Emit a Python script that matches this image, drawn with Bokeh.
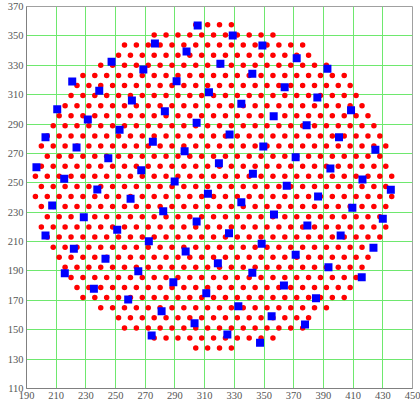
from bokeh.plotting import figure
from bokeh.models import FixedTicker, Range1d
from bokeh.embed import file_html
from bokeh.resources import INLINE

x_ticks = [190, 210, 230, 250, 270, 290, 310, 330, 350, 370, 390, 410, 430, 450]
y_ticks = [110, 130, 150, 170, 190, 210, 230, 250, 270, 290, 310, 330, 350, 370]

# red points, read row by row (y of row, x positions in that row)
red_rows_y = [137.5, 144.4, 151.2, 158.1, 165.0, 171.9, 178.8, 185.6, 192.5, 199.4,
              206.2, 213.1, 220.0, 226.9, 233.8, 240.6, 247.5, 254.4, 261.2, 268.1,
              275.0, 281.9, 288.8, 295.6, 302.5, 309.4, 316.2, 323.1, 330.0, 336.9,
              343.8, 350.6, 357.5]
red_rows_x = [
    [304, 312, 320, 328],
    [276, 284, 292, 300, 308, 316, 324, 332, 340, 348, 356],
    [256, 264, 272, 280, 288, 296, 304, 312, 320, 328, 336, 344, 352, 360, 368, 376],
    [252, 260, 268, 276, 284, 292, 300, 308, 316, 324, 332, 340, 348, 356, 364, 372, 380],
    [240, 248, 256, 264, 272, 280, 288, 296, 304, 312, 320, 328, 336, 344, 352, 360, 368, 376, 384, 392],
    [228, 236, 244, 252, 260, 268, 276, 284, 292, 300, 308, 316, 324, 332, 340, 348, 356, 364, 372, 380, 388, 396, 404],
    [224, 232, 240, 248, 256, 264, 272, 280, 288, 296, 304, 312, 320, 328, 336, 344, 352, 360, 368, 376, 384, 392, 400, 408],
    [220, 228, 236, 244, 252, 260, 268, 276, 284, 292, 300, 308, 316, 324, 332, 340, 348, 356, 364, 372, 380, 388, 396, 404, 412],
    [216, 224, 232, 240, 248, 256, 264, 272, 280, 288, 296, 304, 312, 320, 328, 336, 344, 352, 360, 368, 376, 384, 392, 400, 408, 416],
    [212, 220, 228, 236, 244, 252, 260, 268, 276, 284, 292, 300, 308, 316, 324, 332, 340, 348, 356, 364, 372, 380, 388, 396, 404, 412, 420],
    [208, 216, 224, 232, 240, 248, 256, 264, 272, 280, 288, 296, 304, 312, 320, 328, 336, 344, 352, 360, 368, 376, 384, 392, 400, 408, 416, 424],
    [204, 212, 220, 228, 236, 244, 252, 260, 268, 276, 284, 292, 300, 308, 316, 324, 332, 340, 348, 356, 364, 372, 380, 388, 396, 404, 412, 420, 428],
    [200, 208, 216, 224, 232, 240, 248, 256, 264, 272, 280, 288, 296, 304, 312, 320, 328, 336, 344, 352, 360, 368, 376, 384, 392, 400, 408, 416, 424, 432],
    [204, 212, 220, 228, 236, 244, 252, 260, 268, 276, 284, 292, 300, 308, 316, 324, 332, 340, 348, 356, 364, 372, 380, 388, 396, 404, 412, 420, 428],
    [200, 208, 216, 224, 232, 240, 248, 256, 264, 272, 280, 288, 296, 304, 312, 320, 328, 336, 344, 352, 360, 368, 376, 384, 392, 400, 408, 416, 424, 432],
    [196, 204, 212, 220, 228, 236, 244, 252, 260, 268, 276, 284, 292, 300, 308, 316, 324, 332, 340, 348, 356, 364, 372, 380, 388, 396, 404, 412, 420, 428, 436],
    [200, 208, 216, 224, 232, 240, 248, 256, 264, 272, 280, 288, 296, 304, 312, 320, 328, 336, 344, 352, 360, 368, 376, 384, 392, 400, 408, 416, 424, 432],
    [196, 204, 212, 220, 228, 236, 244, 252, 260, 268, 276, 284, 292, 300, 308, 316, 324, 332, 340, 348, 356, 364, 372, 380, 388, 396, 404, 412, 420, 428, 436],
    [200, 208, 216, 224, 232, 240, 248, 256, 264, 272, 280, 288, 296, 304, 312, 320, 328, 336, 344, 352, 360, 368, 376, 384, 392, 400, 408, 416, 424, 432],
    [204, 212, 220, 228, 236, 244, 252, 260, 268, 276, 284, 292, 300, 308, 316, 324, 332, 340, 348, 356, 364, 372, 380, 388, 396, 404, 412, 420, 428],
    [200, 208, 216, 224, 232, 240, 248, 256, 264, 272, 280, 288, 296, 304, 312, 320, 328, 336, 344, 352, 360, 368, 376, 384, 392, 400, 408, 416, 424, 432],
    [204, 212, 220, 228, 236, 244, 252, 260, 268, 276, 284, 292, 300, 308, 316, 324, 332, 340, 348, 356, 364, 372, 380, 388, 396, 404, 412, 420, 428],
    [208, 216, 224, 232, 240, 248, 256, 264, 272, 280, 288, 296, 304, 312, 320, 328, 336, 344, 352, 360, 368, 376, 384, 392, 400, 408, 416, 424],
    [212, 220, 228, 236, 244, 252, 260, 268, 276, 284, 292, 300, 308, 316, 324, 332, 340, 348, 356, 364, 372, 380, 388, 396, 404, 412, 420],
    [216, 224, 232, 240, 248, 256, 264, 272, 280, 288, 296, 304, 312, 320, 328, 336, 344, 352, 360, 368, 376, 384, 392, 400, 408, 416],
    [220, 228, 236, 244, 252, 260, 268, 276, 284, 292, 300, 308, 316, 324, 332, 340, 348, 356, 364, 372, 380, 388, 396, 404, 412],
    [224, 232, 240, 248, 256, 264, 272, 280, 288, 296, 304, 312, 320, 328, 336, 344, 352, 360, 368, 376, 384, 392, 400, 408],
    [228, 236, 244, 252, 260, 268, 276, 284, 292, 300, 308, 316, 324, 332, 340, 348, 356, 364, 372, 380, 388, 396, 404],
    [240, 248, 256, 264, 272, 280, 288, 296, 304, 312, 320, 328, 336, 344, 352, 360, 368, 376, 384, 392],
    [252, 260, 268, 276, 284, 292, 300, 308, 316, 324, 332, 340, 348, 356, 364, 372, 380],
    [256, 264, 272, 280, 288, 296, 304, 312, 320, 328, 336, 344, 352, 360, 368, 376],
    [276, 284, 292, 300, 308, 316, 324, 332, 340, 348, 356],
    [304, 312, 320, 328],
]

# blue squares
blue_x = [305.3, 328.9, 348.9, 372.0, 392.7,
          276.5, 297.8, 320.6, 342.1, 363.9, 385.9, 408.6,
          247.3, 268.7, 291.1, 312.9, 334.7, 356.5, 378.7, 400.5, 425.0,
          220.8, 239.0, 261.0, 283.2, 304.6, 326.8, 349.5, 371.3, 394.7, 416.3, 435.4,
          210.7, 231.3, 252.7, 275.1, 296.5, 319.6, 342.5, 365.3, 386.4, 409.5, 430.0,
          202.8, 223.7, 245.1, 267.3, 289.8, 312.2, 334.7, 356.7, 379.2, 401.6, 423.7,
          196.7, 215.4, 237.7, 260.1, 282.1, 304.6, 326.4, 348.4, 371.3, 393.4, 415.8,
          207.3, 228.6, 251.1, 272.4, 297.2, 318.9, 342.1, 363.4, 385.0,
          202.8, 221.9, 243.2, 265.3, 288.9, 311.1, 332.7, 355.1, 377.6,
          215.8, 235.4, 258.5, 281.0, 303.2, 325.3, 347.3,
          274.3]
blue_y = [357.1, 350.3, 343.5, 334.8, 327.6,
          344.8, 339.4, 331.0, 324.2, 315.1, 308.1, 299.4,
          332.4, 327.1, 319.2, 311.7, 303.8, 295.3, 289.2, 281.0, 272.5,
          319.0, 312.6, 306.0, 298.7, 290.8, 282.9, 274.7, 267.4, 259.7, 252.2, 245.2,
          300.1, 293.1, 286.1, 277.9, 271.5, 263.3, 256.1, 248.0, 240.7, 233.0, 225.5,
          281.0, 274.0, 266.7, 258.6, 250.9, 242.5, 236.8, 228.4, 220.9, 214.1, 205.8,
          260.6, 252.7, 245.4, 239.1, 230.7, 223.7, 215.7, 208.5, 201.0, 192.6, 185.7,
          234.6, 226.6, 218.0, 210.3, 203.2, 195.3, 188.7, 180.1, 171.5,
          214.1, 205.1, 198.3, 189.8, 182.3, 174.9, 166.0, 159.2, 153.6,
          188.5, 177.9, 170.6, 162.6, 154.4, 146.8, 141.1,
          146.1]

red_x = []
red_y = []
for yy, xs in zip(red_rows_y, red_rows_x):
    for xx in xs:
        red_x.append(xx)
        red_y.append(yy)

p = figure(width=420, height=404,
           x_range=Range1d(190, 450), y_range=Range1d(110, 370),
           output_backend="svg", toolbar_location=None,
           min_border_left=26, min_border_right=8,
           min_border_top=6, min_border_bottom=16)

p.xaxis.ticker = FixedTicker(ticks=x_ticks)
p.yaxis.ticker = FixedTicker(ticks=y_ticks)
p.xgrid.ticker = FixedTicker(ticks=x_ticks)
p.ygrid.ticker = FixedTicker(ticks=y_ticks)

p.grid.grid_line_color = "#6ee86e"
p.grid.grid_line_width = 1
p.axis.major_tick_out = 0
p.axis.major_tick_in = 0
p.axis.minor_tick_line_color = None
p.axis.axis_line_color = "#808080"
p.outline_line_color = "#a0a0a0"
p.axis.major_label_text_font = "Liberation Serif"
p.axis.major_label_text_font_size = "10.5px"
p.axis.major_label_text_color = "#555555"
p.axis.major_label_standoff = 3

p.scatter(x=red_x, y=red_y, marker="circle", size=5.5,
          fill_color="#ff0000", line_color=None)
p.scatter(x=blue_x, y=blue_y, marker="square", size=8,
          fill_color="#0000ff", line_color=None)

open("out.html", "w").write(file_html(p, INLINE))
